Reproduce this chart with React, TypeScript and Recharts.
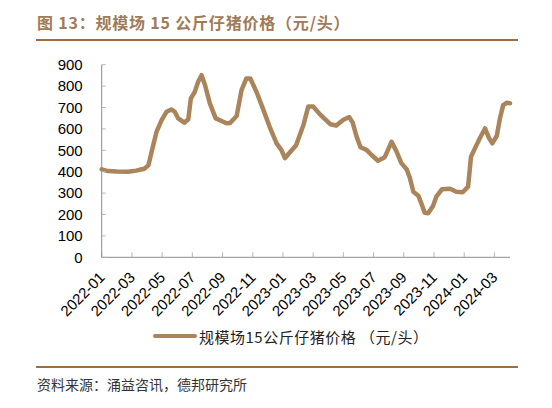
import React from 'react';
import { LineChart, Line, XAxis, YAxis } from 'recharts';

const dates = [
  '2022-01-01', '2022-01-14', '2022-02-01', '2022-02-22', '2022-03-10', '2022-03-19', '2022-03-27',
  '2022-04-04', '2022-04-11', '2022-04-20', '2022-04-30', '2022-05-10', '2022-05-20', '2022-05-27',
  '2022-06-03', '2022-06-15', '2022-06-23', '2022-06-28', '2022-07-06', '2022-07-13', '2022-07-20',
  '2022-07-27', '2022-08-06', '2022-08-18', '2022-08-30', '2022-09-09', '2022-09-16', '2022-09-23',
  '2022-09-29', '2022-10-09', '2022-10-19', '2022-10-27', '2022-11-09', '2022-11-22', '2022-12-06',
  '2022-12-19', '2022-12-29', '2023-01-05', '2023-01-15', '2023-01-28', '2023-02-11', '2023-02-20',
  '2023-03-01', '2023-03-15', '2023-04-05', '2023-04-17', '2023-05-01', '2023-05-13', '2023-05-20',
  '2023-05-28', '2023-06-05', '2023-06-17', '2023-06-27', '2023-07-10', '2023-07-24', '2023-08-07',
  '2023-08-17', '2023-08-27', '2023-09-07', '2023-09-13', '2023-09-20', '2023-09-30', '2023-10-07',
  '2023-10-13', '2023-10-20', '2023-10-30', '2023-11-06', '2023-11-17', '2023-12-03', '2023-12-16',
  '2023-12-29', '2024-01-09', '2024-01-15', '2024-01-23', '2024-02-02', '2024-02-12', '2024-02-20',
  '2024-02-26', '2024-03-06', '2024-03-12', '2024-03-19', '2024-03-26', '2024-04-02',
];

const prices = [
  411, 403, 401, 400, 405, 410, 414,
  431, 501, 587, 641, 680, 691, 680,
  649, 629, 645, 742, 773, 820, 851,
  805, 719, 649, 637, 626, 628, 645,
  660, 781, 836, 836, 770, 690, 602,
  532, 501, 463, 490, 524, 618, 705,
  705, 668, 622, 616, 643, 655, 630,
  565, 514, 502, 478, 451, 468, 540,
  495, 440, 410, 372, 306, 288, 246,
  208, 206, 240, 285, 318, 320, 306,
  304, 330, 470, 509, 556, 602, 556,
  532, 568, 645, 711, 722, 720,
];

const xTickLabels = [
  '2022-01', '2022-03', '2022-05', '2022-07', '2022-09', '2022-11', '2023-01',
  '2023-03', '2023-05', '2023-07', '2023-09', '2023-11', '2024-01', '2024-03',
];

const yTicks = [0, 100, 200, 300, 400, 500, 600, 700, 800, 900];

const seriesName = '规模场15公斤仔猪价格 （元/头）';
const titleText = '图 13：规模场 15 公斤仔猪价格（元/头）';
const sourceText = '资料来源：涌益咨讯，德邦研究所';

const LINE_COLOR = '#AA845A';
const RULE_COLOR = '#9E6E42';

function monthPos(d: string): number {
  const [y, m, day] = d.split('-').map(Number);
  const dim = new Date(y, m, 0).getDate();
  return (y - 2022) * 12 + (m - 1) + (day - 1) / dim;
}

const tickPositions = xTickLabels.map((l) => monthPos(l + '-01'));
const data = dates.map((d, i) => ({ t: monthPos(d), price: prices[i] }));

const labelFor = (v: number) => {
  const idx = tickPositions.findIndex((p) => Math.abs(p - v) < 1e-6);
  return idx >= 0 ? xTickLabels[idx] : '';
};

const XTick = (props: any) => {
  const { x, y, payload } = props;
  return (
    <g transform={`translate(${x + 4},${y + 21})`}>
      <text
        x={0}
        y={0}
        textAnchor="end"
        transform="rotate(-45)"
        fontSize={15}
        fontFamily="'Liberation Sans', Arial, sans-serif"
        fill="#000"
      >
        {labelFor(payload.value)}
      </text>
    </g>
  );
};

export default function App() {
  return (
    <div
      style={{
        position: 'absolute',
        left: 0,
        top: 0,
        width: 552,
        height: 408,
        background: '#fff',
        overflow: 'hidden',
      }}
    >
      <div
        style={{
          position: 'absolute',
          left: 37,
          top: 11,
          fontSize: 16,
          lineHeight: '22px',
          fontWeight: 'bold',
          letterSpacing: '0.8px',
          color: '#A07B56',
          fontFamily: "'Noto Sans CJK SC', sans-serif",
          whiteSpace: 'nowrap',
        }}
      >
        {titleText}
      </div>
      <div
        style={{
          position: 'absolute',
          left: 36,
          top: 39,
          width: 482,
          height: 2,
          background: RULE_COLOR,
        }}
      />
      <div style={{ position: 'absolute', left: 0, top: 0 }}>
        <LineChart
          width={552}
          height={408}
          data={data}
          margin={{ top: 64.7, right: 42, left: 41.7, bottom: 100.7 }}
        >
          <XAxis
            dataKey="t"
            type="number"
            domain={['dataMin', 'dataMax']}
            ticks={tickPositions}
            interval={0}
            height={50}
            axisLine={{ stroke: '#8c8c8c', strokeWidth: 1 }}
            tickLine={{ stroke: '#b5b5b5', strokeWidth: 1 }}
            tickSize={-5}
            tickMargin={5}
            tick={<XTick />}
          />
          <YAxis
            type="number"
            domain={[0, 900]}
            ticks={yTicks}
            interval={0}
            width={60}
            axisLine={{ stroke: '#8c8c8c', strokeWidth: 1 }}
            tickLine={{ stroke: '#b5b5b5', strokeWidth: 1 }}
            tickSize={-4}
            tickMargin={23}
            tick={{
              fontSize: 15,
              fill: '#000',
              fontFamily: "'Liberation Sans', Arial, sans-serif",
            }}
          />
          <Line
            type="linear"
            dataKey="price"
            name={seriesName}
            stroke={LINE_COLOR}
            strokeWidth={4.5}
            strokeLinejoin="round"
            strokeLinecap="round"
            dot={false}
            activeDot={false}
            isAnimationActive={false}
          />
        </LineChart>
      </div>
      <div
        style={{
          position: 'absolute',
          left: 153,
          top: 324,
          height: 24,
          display: 'flex',
          alignItems: 'center',
          whiteSpace: 'nowrap',
        }}
      >
        <div style={{ width: 44, height: 4, background: LINE_COLOR, borderRadius: 2, marginRight: 2 }} />
        <span
          style={{
            fontSize: 15,
            color: '#222',
            letterSpacing: '0.5px',
            fontFamily: "'Noto Sans CJK SC', sans-serif",
          }}
        >
          {seriesName}
        </span>
      </div>
      <div
        style={{
          position: 'absolute',
          left: 36,
          top: 366,
          width: 482,
          height: 2,
          background: RULE_COLOR,
        }}
      />
      <div
        style={{
          position: 'absolute',
          left: 37,
          top: 374,
          fontSize: 14,
          lineHeight: '20px',
          color: '#333',
          fontFamily: "'Noto Sans CJK SC', sans-serif",
          whiteSpace: 'nowrap',
        }}
      >
        {sourceText}
      </div>
    </div>
  );
}
